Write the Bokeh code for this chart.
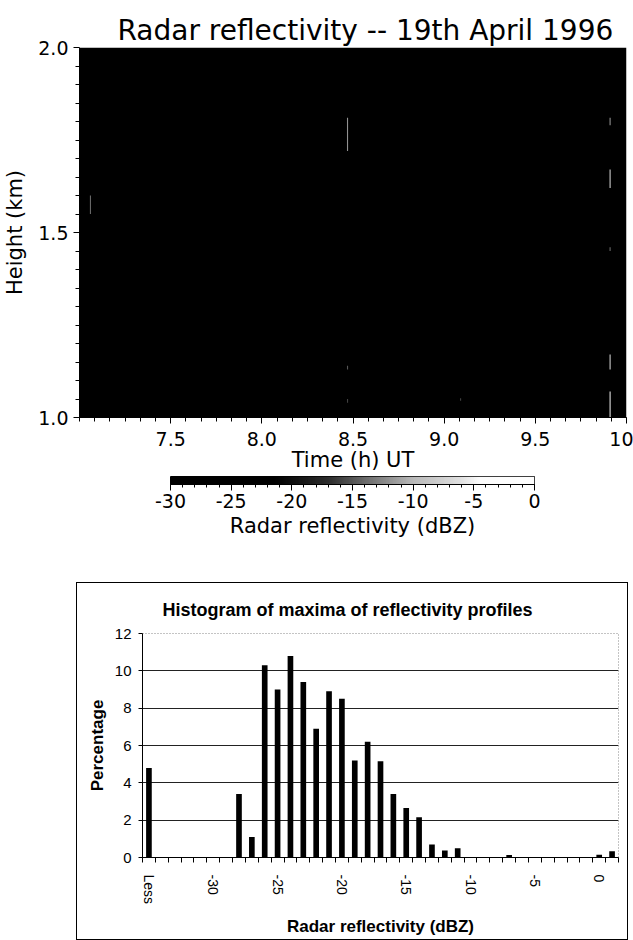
import numpy as np
from bokeh.plotting import figure
from bokeh.models import Range1d, FixedTicker, LinearColorMapper, ColumnDataSource
from bokeh.layouts import column
from bokeh.embed import file_html
from bokeh.resources import INLINE

# ---------------- data: radar time-height section ----------------
time_range = [7.0, 10.0]          # h UT
height_range = [1.0, 2.0]         # km
background_dbz = -32.0            # whole section lies below the -30 dBZ floor
speck_time = [7.06, 8.47, 8.47, 8.47, 9.09, 9.91, 9.91, 9.91, 9.91, 9.91]
speck_h_lo = [1.55, 1.72, 1.13, 1.04, 1.045, 1.79, 1.62, 1.45, 1.13, 1.00]
speck_h_hi = [1.60, 1.81, 1.14, 1.05, 1.052, 1.81, 1.67, 1.46, 1.17, 1.07]
speck_dbz = [-14, -12, -15, -16, -16, -12, -8, -14, -8, -6]

x_tick_values = [7.5, 8.0, 8.5, 9.0, 9.5, 10.0]
x_tick_labels = ["7.5", "8.0", "8.5", "9.0", "9.5", "10"]
y_tick_values = [1.0, 1.5, 2.0]
y_tick_labels = ["1.0", "1.5", "2.0"]

cbar_range = [-30, 0]
cbar_tick_values = [-30, -25, -20, -15, -10, -5, 0]
cbar_tick_labels = ["-30", "-25", "-20", "-15", "-10", "-5", "0"]

# ---------------- data: histogram ----------------
hist_categories = ["Less", "-34", "-33", "-32", "-31", "-30", "-29", "-28", "-27", "-26",
                   "-25", "-24", "-23", "-22", "-21", "-20", "-19", "-18", "-17", "-16",
                   "-15", "-14", "-13", "-12", "-11", "-10", "-9", "-8", "-7", "-6",
                   "-5", "-4", "-3", "-2", "-1", "0", "More"]
hist_percent = [4.8, 0, 0, 0, 0, 0, 0, 3.4, 1.1, 10.3,
                9.0, 10.8, 9.4, 6.9, 8.9, 8.5, 5.2, 6.2, 5.15, 3.4,
                2.65, 2.15, 0.7, 0.38, 0.5, 0, 0, 0, 0.14, 0,
                0, 0, 0, 0, 0, 0.15, 0.33]
hist_label_every = 5
hist_y_ticks = [0, 2, 4, 6, 8, 10, 12]
hist_y_range = [0, 12]

# ---------------- grey colour table ----------------
lv = np.linspace(cbar_range[0], cbar_range[1], 256)
gl = np.interp(lv, [-30, -21.5, -17, -10, -6, -4.5, 0], [0, 0, 45, 185, 225, 252, 255]).astype(int)
palette = ["#%02x%02x%02x" % (g, g, g) for g in gl]
mapper = LinearColorMapper(palette=palette, low=cbar_range[0], high=cbar_range[1],
                           low_color="black", high_color="white")

TOP_FONT = "DejaVu Sans"

def style_axis(ax, font, tick_size, label_size):
    ax.axis_line_color = "black"
    ax.major_tick_line_color = "black"
    ax.minor_tick_line_color = "black"
    ax.major_label_text_font = font
    ax.axis_label_text_font = font
    ax.major_label_text_font_size = tick_size
    ax.axis_label_text_font_size = label_size
    ax.axis_label_text_font_style = "normal"
    ax.major_label_text_color = "black"
    ax.axis_label_text_color = "black"

# ---------------- top: time-height section ----------------
top = figure(width=633, height=475, x_range=Range1d(*time_range), y_range=Range1d(*height_range),
             output_backend="svg", toolbar_location=None,
             min_border_left=78, min_border_right=7, min_border_top=47, min_border_bottom=58,
             title="Radar reflectivity -- 19th April 1996")
top.title.text_font = TOP_FONT
top.title.text_font_size = "28px"
top.title.text_font_style = "normal"
top.title.text_color = "black"
top.title.align = "left"
top.title.offset = 38
top.title.standoff = 2
top.grid.visible = False
top.outline_line_color = None

bg = ColumnDataSource(dict(left=[time_range[0]], right=[time_range[1]],
                           bottom=[height_range[0]], top=[height_range[1]], dbz=[background_dbz]))
top.quad(left="left", right="right", bottom="bottom", top="top", source=bg,
         fill_color={"field": "dbz", "transform": mapper}, line_color=None)

sp = ColumnDataSource(dict(t=speck_time,
                           hm=[(a + b) / 2 for a, b in zip(speck_h_lo, speck_h_hi)],
                           hh=[b - a for a, b in zip(speck_h_lo, speck_h_hi)],
                           dbz=speck_dbz))
top.rect(x="t", y="hm", width=0.006, height="hh", source=sp,
         fill_color={"field": "dbz", "transform": mapper}, line_color=None)

top.xaxis.ticker = FixedTicker(ticks=x_tick_values, minor_ticks=list(np.arange(7.0, 10.0001, 1 / 12)))
top.xaxis.major_label_overrides = dict(zip(x_tick_values, x_tick_labels))
top.yaxis.ticker = FixedTicker(ticks=y_tick_values, minor_ticks=list(np.arange(1.0, 2.0001, 0.05)))
top.yaxis.major_label_overrides = dict(zip(y_tick_values, y_tick_labels))
top.xaxis.axis_label = "Time (h) UT"
top.yaxis.axis_label = "Height (km)"
for ax in (top.xaxis[0], top.yaxis[0]):
    style_axis(ax, TOP_FONT, "19px", "21px")
    ax.major_tick_out = 6
    ax.major_tick_in = 0
    ax.minor_tick_out = 4
    ax.minor_tick_in = 0
top.xaxis.major_label_standoff = 8
top.xaxis.axis_label_standoff = -1
top.yaxis.major_label_standoff = 5
top.yaxis.axis_label_standoff = 8

# ---------------- colour bar ----------------
cb = figure(width=633, height=108, x_range=Range1d(*cbar_range), y_range=Range1d(0, 1),
            output_backend="svg", toolbar_location=None, y_axis_location=None,
            min_border_left=170, min_border_right=99, min_border_top=1, min_border_bottom=99)
cb.grid.visible = False
cb.outline_line_color = "black"
cb.outline_line_width = 1
cb.image(image=[lv[None, :]], x=cbar_range[0], y=0, dw=cbar_range[1] - cbar_range[0], dh=1,
         color_mapper=mapper)
cb.xaxis.ticker = FixedTicker(ticks=cbar_tick_values, minor_ticks=list(range(-30, 1)))
cb.xaxis.major_label_overrides = dict(zip(cbar_tick_values, cbar_tick_labels))
cb.xaxis.axis_label = "Radar reflectivity (dBZ)"
style_axis(cb.xaxis[0], TOP_FONT, "19px", "21px")
cb.xaxis.major_tick_out = 6
cb.xaxis.major_tick_in = 0
cb.xaxis.minor_tick_out = 3
cb.xaxis.minor_tick_in = 0
cb.xaxis.major_label_standoff = 3
cb.xaxis.axis_label_standoff = 3

# ---------------- histogram ----------------
HF = "Liberation Sans"
n = len(hist_categories)
xs = list(range(n))
hist = figure(width=550, height=356, x_range=Range1d(-0.5, n - 0.5), y_range=Range1d(*hist_y_range),
              output_backend="svg", toolbar_location=None,
              min_border_left=65, min_border_right=9, min_border_top=47, min_border_bottom=80,
              title="Histogram of maxima of reflectivity profiles")
hist.styles = {"outline": "1px solid black", "outline-offset": "0px"}
hist.title.text_font = HF
hist.title.text_font_size = "18px"
hist.title.text_font_style = "bold"
hist.title.text_color = "black"
hist.title.align = "left"
hist.title.offset = 20
hist.title.standoff = 28
hist.vbar(x=xs, top=hist_percent, width=0.44, fill_color="black", line_color=None)
hist.xgrid.visible = False
hist.ygrid.ticker = FixedTicker(ticks=[t for t in hist_y_ticks if 0 < t < hist_y_range[1]])
hist.ygrid.grid_line_color = "#222222"
hist.ygrid.grid_line_width = 1
hist.outline_line_color = "#888888"
hist.outline_line_dash = "1 2"

hist.xaxis.ticker = FixedTicker(ticks=xs[::hist_label_every], minor_ticks=[i - 0.5 for i in range(n + 1)])
hist.xaxis.major_label_overrides = {i: hist_categories[i] for i in xs[::hist_label_every]}
hist.xaxis.major_label_orientation = "vertical"
hist.yaxis.ticker = FixedTicker(ticks=hist_y_ticks)
hist.xaxis.axis_label = "Radar reflectivity (dBZ)"
hist.yaxis.axis_label = "Percentage"
for ax in (hist.xaxis[0], hist.yaxis[0]):
    style_axis(ax, HF, "14px", "17px")
    ax.axis_label_text_font_style = "bold"
    ax.major_tick_in = 0
    ax.minor_tick_in = 0
hist.yaxis.major_label_text_font_size = "15px"
hist.xaxis.major_tick_out = 0
hist.xaxis.minor_tick_out = 5
hist.xaxis.major_label_standoff = 12
hist.xaxis.axis_label_standoff = 10
hist.yaxis.major_tick_out = 4
hist.yaxis.minor_tick_out = 0
hist.yaxis.major_label_standoff = 7
hist.yaxis.axis_label_standoff = 5

layout = column(column(top), column(cb), column(hist, margin=(0, 0, 0, 77)), spacing=0)
open("out.html", "w").write(file_html(layout, INLINE))
